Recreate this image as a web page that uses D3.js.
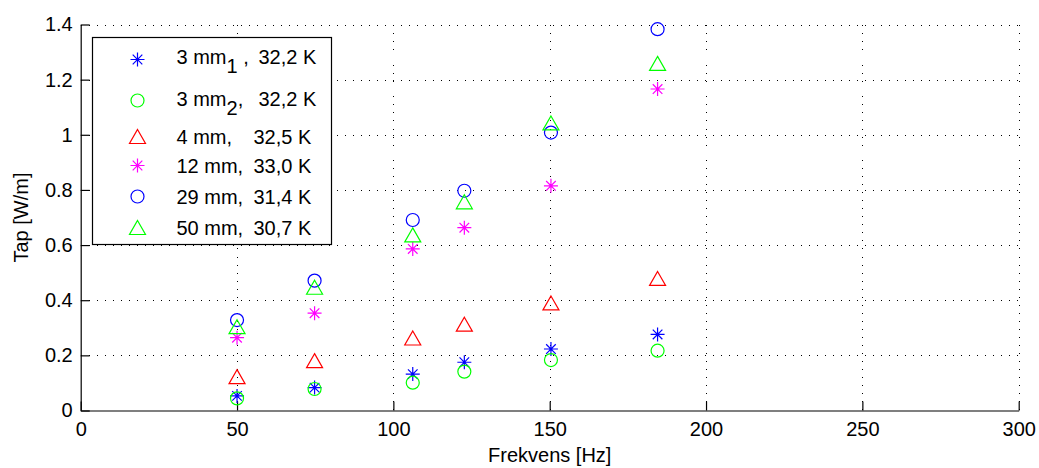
<!DOCTYPE html>
<html><head><meta charset="utf-8">
<script src="https://cdn.jsdelivr.net/npm/d3@7"></script>
<style>
body{margin:0;background:#fff}
svg{display:block}
text{font-family:"Liberation Sans",Arial,Helvetica,sans-serif;fill:#000}
</style>
</head><body>
<svg id="chart" width="1039" height="468"></svg>
<script>
// ---------- data ----------
const freq      = [50, 74.8, 106.2, 122.7, 150.4, 184.5];
const s3mm1     = [0.053, 0.083, 0.132, 0.175, 0.223, 0.276];
const s3mm2     = [0.044, 0.078, 0.101, 0.141, 0.183, 0.217];
const s4mm      = [0.123, 0.181, 0.263, 0.313, 0.390, 0.479];
const s12mm     = [0.264, 0.353, 0.586, 0.663, 0.815, 1.166];
const s29mm     = [0.328, 0.471, 0.691, 0.797, 1.008, 1.383];
const s50mm     = [0.304, 0.447, 0.637, 0.757, 1.043, 1.259];

const legendMain = ["3 mm", "3 mm", "4 mm,", "12 mm,", "29 mm,", "50 mm,"];
const legendSub  = ["1", "2", "", "", "", ""];
const legendAfterSub = [" ,", ",", "", "", "", ""];
const legendTemp = ["32,2 K", "32,2 K", "32,5 K", "33,0 K", "31,4 K", "30,7 K"];

const xTicks = [0, 50, 100, 150, 200, 250, 300];
const yTicks = [0, 0.2, 0.4, 0.6, 0.8, 1, 1.2, 1.4];
const yTickLabels = ["0", "0.2", "0.4", "0.6", "0.8", "1", "1.2", "1.4"];
const xLabel = "Frekvens [Hz]";
const yLabel = "Tap [W/m]";

// ---------- styles ----------
const seriesData   = [s3mm1, s3mm2, s4mm, s12mm, s29mm, s50mm];
const seriesMarker = ["star", "circle", "triangle", "star", "circle", "triangle"];
const seriesColor  = ["#0000ff", "#00ff00", "#ff0000", "#ff00ff", "#0000ff", "#00ff00"];

const W = 1039, H = 468;
const plot = {left: 80.7, right: 1018.7, top: 24.5, bottom: 410.5};
const FS = 20;

const svg = d3.select("#chart");
const x = d3.scaleLinear().domain([0, 300]).range([plot.left, plot.right]);
const y = d3.scaleLinear().domain([0, 1.4]).range([plot.bottom, plot.top]);

// ---------- grid ----------
const grid = svg.append("g").attr("stroke", "#000").attr("stroke-width", 1)
  .attr("stroke-dasharray", "1,7").attr("fill", "none").attr("shape-rendering", "crispEdges");
grid.selectAll("line.h").data(yTicks.filter(d => d > 0)).join("line")
  .attr("x1", plot.left).attr("x2", plot.right)
  .attr("y1", d => Math.round(y(d)) + 0.5).attr("y2", d => Math.round(y(d)) + 0.5);
grid.selectAll("line.v").data(xTicks.filter(d => d > 0)).join("line")
  .attr("y1", plot.top).attr("y2", plot.bottom)
  .attr("x1", d => Math.round(x(d)) + 0.5).attr("x2", d => Math.round(x(d)) + 0.5);

// ---------- axes ----------
const xAxis = d3.axisBottom(x).tickValues(xTicks).tickFormat(d3.format("d"))
  .tickSizeInner(-9).tickSizeOuter(0).tickPadding(11.5);
const yAxis = d3.axisLeft(y).tickValues(yTicks).tickFormat((d, i) => yTickLabels[i])
  .tickSizeInner(-9).tickSizeOuter(0).tickPadding(8);

const gx = svg.append("g").attr("transform", `translate(0,${plot.bottom})`).call(xAxis);
const gy = svg.append("g").attr("transform", `translate(${plot.left},0)`).call(yAxis);
[gx, gy].forEach(g => {
  g.attr("font-family", null).attr("font-size", null);
  g.selectAll("text").attr("font-size", FS).attr("fill", "#000");
  g.selectAll("line, path").attr("stroke", "#000").attr("stroke-width", 1.2);
});

svg.append("text").attr("x", (plot.left + plot.right) / 2).attr("y", 461.5)
  .attr("text-anchor", "middle").attr("font-size", FS).text(xLabel);
svg.append("text").attr("transform", `translate(27.5,${(plot.top + plot.bottom) / 2}) rotate(-90)`)
  .attr("text-anchor", "middle").attr("font-size", FS).text(yLabel);

// ---------- markers ----------
function drawMarker(sel, type, color) {
  sel.attr("fill", "none").attr("stroke", color).attr("stroke-width", 1.2);
  if (type === "circle") {
    sel.append("circle").attr("r", 6.5);
  } else if (type === "triangle") {
    sel.append("path").attr("d", "M0,-7L8,7L-8,7Z");
  } else {
    sel.append("path").attr("d", "M-7,0H7M0,-7V7M-4.8,-4.8L4.8,4.8M-4.8,4.8L4.8,-4.8");
  }
}

seriesData.forEach((vals, si) => {
  const g = svg.append("g");
  vals.forEach((v, i) => {
    const m = g.append("g").attr("transform", `translate(${x(freq[i])},${y(v)})`);
    drawMarker(m, seriesMarker[si], seriesColor[si]);
  });
});

// ---------- legend ----------
const leg = {x: 92.5, y: 37.5, w: 239, h: 207};
const legMarkerY = [22, 63, 99, 128, 159, 190];
const legTextY   = [26, 68, 106, 135, 166, 197];
const lg = svg.append("g").attr("transform", `translate(${leg.x},${leg.y})`);
lg.append("rect").attr("width", leg.w).attr("height", leg.h)
  .attr("fill", "#fff").attr("stroke", "#000").attr("stroke-width", 1.2);
legendMain.forEach((lab, i) => {
  const m = lg.append("g").attr("transform", `translate(45,${legMarkerY[i]})`);
  drawMarker(m, seriesMarker[i], seriesColor[i]);
  const t = lg.append("text").attr("x", 84).attr("y", legTextY[i]).attr("font-size", FS)
    .style("white-space", "pre");
  t.append("tspan").text(lab);
  if (legendSub[i]) {
    t.append("tspan").attr("dy", 9).text(legendSub[i]);
    t.append("tspan").attr("dy", -9).text(legendAfterSub[i]);
  }
  t.append("tspan").attr("x", i < 2 ? 166 : 161).text(legendTemp[i]);
});
</script>
</body></html>
